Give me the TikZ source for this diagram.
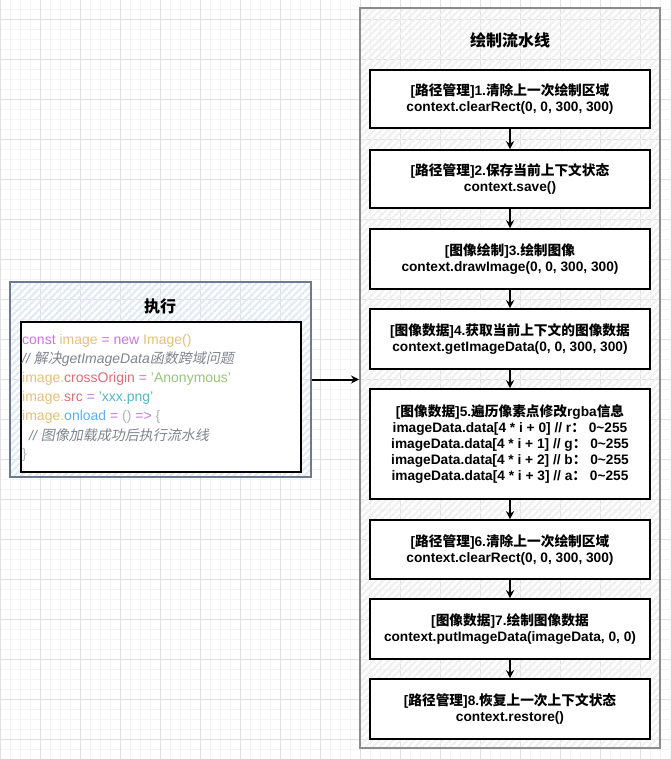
\documentclass[tikz,border=0pt]{standalone}
\usepackage{fontspec}
\setmainfont{Liberation Sans}
\newfontfamily\cjk{Noto Sans CJK SC}
\newfontfamily\cjkit[FakeSlant=0.2]{Noto Sans CJK SC}
\usetikzlibrary{arrows.meta,patterns.meta}
\newcommand\zh[1]{{\cjk #1}}
\newcommand\zhi[1]{{\cjkit #1}}
\definecolor{kw}{HTML}{C678DD}
\definecolor{var}{HTML}{E5C07B}
\definecolor{prop}{HTML}{E06C75}
\definecolor{strg}{HTML}{98C379}
\definecolor{strc}{HTML}{56B6C2}
\definecolor{fn}{HTML}{61AFEF}
\definecolor{punc}{HTML}{ABB2BF}
\definecolor{cmt}{HTML}{7F848E}
\definecolor{gridminor}{HTML}{F4F4F4}
\definecolor{gridmajor}{HTML}{E0E0E0}
\definecolor{hatchgray}{HTML}{EFEFEF}
\definecolor{hatchblue}{HTML}{E0EAF7}
\definecolor{pipeborder}{HTML}{8C8C8C}
\definecolor{execborder}{HTML}{6E7B8E}
\tikzset{
  minorgrid/.style={draw=gridminor, line width=0.8pt},
  majorgrid/.style={draw=gridmajor, line width=0.9pt},
  stepbox/.style={draw=black, line width=1.6pt, fill=white, minimum width=280pt,
    minimum height=59pt, inner sep=0pt, align=center,
    font=\bfseries\fontsize{13.7}{16}\selectfont},
  flow/.style={draw=black, line width=2pt, -{Stealth[length=8pt,width=8pt]}},
  titletext/.style={font=\bfseries\fontsize{16}{19}\selectfont, inner sep=0pt},
  codeline/.style={anchor=west, inner sep=0pt, font=\fontsize{14}{16}\selectfont},
}
\begin{document}
\begin{tikzpicture}[x=1pt,y=-1pt]
\useasboundingbox (0,0) rectangle (670,759);
\fill[white] (0,0) rectangle (670,759);
% grid
\foreach \x in {0,10,...,670} \draw[minorgrid] (\x,0) -- (\x,759);
\foreach \y in {9,19,...,759} \draw[minorgrid] (0,\y) -- (670,\y);
\foreach \x in {0,40,...,660} \draw[majorgrid] (\x,0) -- (\x,759);
\foreach \y in {19,59,...,739} \draw[majorgrid] (0,\y) -- (670,\y);

% pipeline container
\node[draw=pipeborder, line width=1.4pt, minimum width=300pt, minimum height=740pt,
  inner sep=0pt, pattern={Lines[angle=45,distance=5pt,line width=2pt]},
  pattern color=hatchgray] (pipe) at (510,378) {};
\node[titletext] (pipetitle) at (510,40) {\zh{绘制流水线}};

\node[stepbox, minimum height=58pt] (b1) at (510,99)
  {[\zh{路径管理}]1.\zh{清除上一次绘制区域}\\context.clearRect(0, 0, 300, 300)};
\node[stepbox, minimum height=58pt] (b2) at (510,179)
  {[\zh{路径管理}]2.\zh{保存当前上下文状态}\\context.save()};
\node[stepbox, minimum height=60pt] (b3) at (510,259)
  {[\zh{图像绘制}]3.\zh{绘制图像}\\context.drawImage(0, 0, 300, 300)};
\node[stepbox, minimum height=60pt] (b4) at (510,339)
  {[\zh{图像数据}]4.\zh{获取当前上下文的图像数据}\\context.getImageData(0, 0, 300, 300)};
\node[stepbox, minimum height=110pt] (b5) at (510,444)
  {[\zh{图像数据}]5.\zh{遍历像素点修改}rgba\zh{信息}\\
   imageData.data[4 * i + 0] // r\zh{：} 0\textasciitilde255\\
   imageData.data[4 * i + 1] // g\zh{：} 0\textasciitilde255\\
   imageData.data[4 * i + 2] // b\zh{：} 0\textasciitilde255\\
   imageData.data[4 * i + 3] // a\zh{：} 0\textasciitilde255};
\node[stepbox] (b6) at (510,549.5)
  {[\zh{路径管理}]6.\zh{清除上一次绘制区域}\\context.clearRect(0, 0, 300, 300)};
\node[stepbox, minimum height=60pt] (b7) at (510,629)
  {[\zh{图像数据}]7.\zh{绘制图像数据}\\context.putImageData(imageData, 0, 0)};
\node[stepbox, minimum height=60pt] (b8) at (510,709)
  {[\zh{路径管理}]8.\zh{恢复上一次上下文状态}\\context.restore()};

\draw[flow] (b1) -- (b2);
\draw[flow] (b2) -- (b3);
\draw[flow] (b3) -- (b4);
\draw[flow] (b4) -- (b5);
\draw[flow] (b5) -- (b6);
\draw[flow] (b6) -- (b7);
\draw[flow] (b7) -- (b8);

% execute container
\node[draw=execborder, line width=1.8pt, minimum width=301pt, minimum height=195pt,
  inner sep=0pt, pattern={Lines[angle=45,distance=5pt,line width=2pt]},
  pattern color=hatchblue] (exec) at (160.5,379.5) {};
\node[titletext] (exectitle) at (160,306) {\zh{执行}};
\node[draw=black, line width=1.6pt, fill=white, minimum width=280pt, minimum height=150pt,
  inner sep=0pt] (code) at (161,397) {};

\node[codeline] (c1) at (22,341) {\textcolor{kw}{const} \textcolor{var}{image} \textcolor{kw}{=} \textcolor{kw}{new} \textcolor{var}{Image()}};
\node[codeline] (c2) at (22,359.5) {\color{cmt}\itshape // \zhi{解决}getImageData\zhi{函数跨域问题}};
\node[codeline] (c3) at (22,378.5) {\textcolor{var}{image.}\textcolor{prop}{crossOrigin} \textcolor{kw}{=} \textcolor{strg}{'Anonymous'}};
\node[codeline] (c4) at (22,397.5) {\textcolor{var}{image.}\textcolor{prop}{src} \textcolor{kw}{=} \textcolor{strc}{'xxx.png'}};
\node[codeline] (c5) at (22,416.5) {\textcolor{var}{image.}\textcolor{fn}{onload} \textcolor{kw}{=} \textcolor{punc}{()} \textcolor{kw}{=>} \textcolor{punc}{\{}};
\node[codeline] (c6) at (22,435.5) {\color{cmt}\itshape\hspace{7pt}// \zhi{图像加载成功后执行流水线}};
\node[codeline] (c7) at (22,454.5) {\textcolor{punc}{\}}};

\draw[flow] (exec.east) -- (exec.east -| pipe.west);
\end{tikzpicture}
\end{document}
